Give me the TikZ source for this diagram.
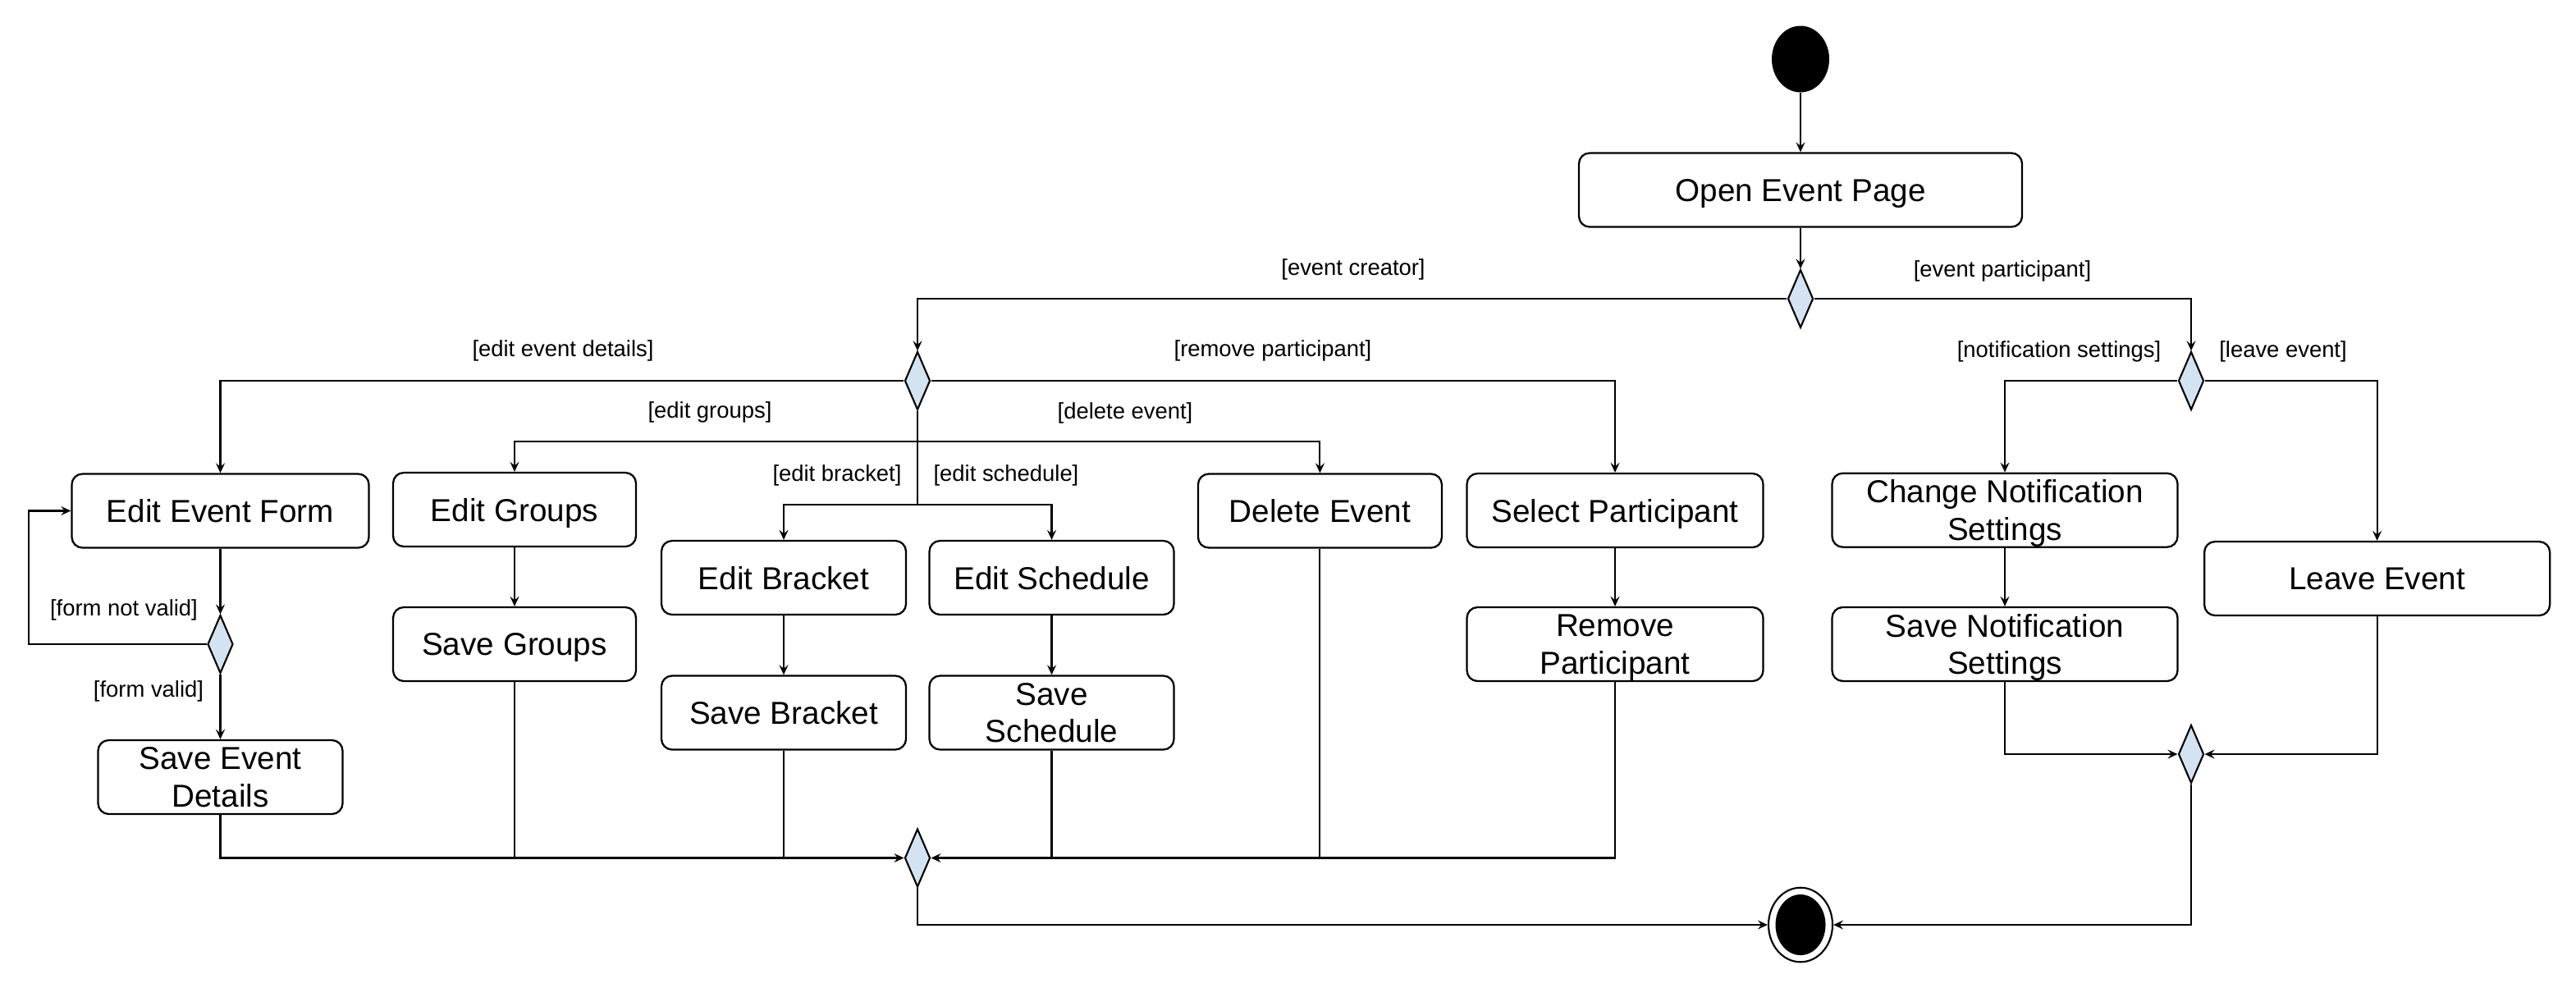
\documentclass[tikz,border=0pt]{standalone}
\usepackage{fontspec}
\setmainfont{Liberation Sans}
\usetikzlibrary{shapes.geometric,arrows.meta}
\definecolor{decblue}{RGB}{212,227,241}

\begin{document}
\begin{tikzpicture}[
  act/.style={draw, rounded corners=1.3mm, line width=0.65pt, minimum height=0.9cm, inner sep=0pt, align=center, text depth=0pt, font=\fontsize{11}{13}\selectfont},
  dec/.style={diamond, draw, fill=decblue, line width=0.6pt, minimum width=0.31cm, minimum height=0.71cm, inner sep=0pt},
  grd/.style={inner sep=0pt, font=\fontsize{7.8}{9}\selectfont},
  flow/.style={line width=0.6pt, -{Stealth[length=1.2mm,width=1.1mm,inset=0.45mm]}},
  plainline/.style={line width=0.6pt}]
\useasboundingbox (0,0) rectangle (31.39,-12.03);

% start
\node (start) at (21.94,-0.72) [ellipse, fill, minimum width=0.70cm, minimum height=0.81cm, inner sep=0pt] {};
\node (open) at (21.94,-2.315) [act, minimum width=5.40cm] {Open Event Page};
\node (d1) at (21.94,-3.64) [dec] {};

% event creator
\node (d2) at (11.18,-4.64) [dec] {};
\node (editform) at (2.685,-6.225) [act, minimum width=3.62cm] {Edit Event Form};
\node (d4) at (2.685,-7.85) [dec] {};
\node (saveform) at (2.685,-9.47) [act, minimum width=2.98cm] {Save Event\\Details};
\node (editgroups) at (6.27,-6.21) [act, minimum width=2.96cm] {Edit Groups};
\node (savegroups) at (6.27,-7.85) [act, minimum width=2.96cm] {Save Groups};
\node (editbracket) at (9.55,-7.04) [act, minimum width=2.98cm] {Edit Bracket};
\node (savebracket) at (9.55,-8.685) [act, minimum width=2.98cm] {Save Bracket};
\node (editschedule) at (12.815,-7.04) [act, minimum width=2.98cm] {Edit Schedule};
\node (saveschedule) at (12.815,-8.685) [act, minimum width=2.98cm] {Save\\Schedule};
\node (delete) at (16.084,-6.225) [act, minimum width=2.97cm] {Delete Event};
\node (select) at (19.68,-6.22) [act, minimum width=3.61cm] {Select Participant};
\node (remove) at (19.68,-7.85) [act, minimum width=3.61cm] {Remove\\Participant};
\node (d5) at (11.18,-10.455) [dec] {};

% event participant
\node (d3) at (26.70,-4.64) [dec] {};
\node (change) at (24.43,-6.217) [act, minimum width=4.21cm] {Change Notification\\Settings};
\node (savenotif) at (24.43,-7.85) [act, minimum width=4.21cm] {Save Notification\\Settings};
\node (leave) at (28.966,-7.05) [act, minimum width=4.21cm] {Leave Event};
\node (d6) at (26.70,-9.19) [dec] {};

% end
\node (final) at (21.94,-11.27) [ellipse, draw, line width=0.6pt, minimum width=0.78cm, minimum height=0.906cm, inner sep=0pt] {};
\node (finaldot) at (final) [ellipse, fill, minimum width=0.61cm, minimum height=0.74cm, inner sep=0pt] {};

% guards
\node (gcreator) at (16.49,-3.28) [grd] {[event creator]};
\node (gparticipant) at (24.40,-3.30) [grd] {[event participant]};
\node (gdetails) at (6.86,-4.27) [grd] {[edit event details]};
\node (gremove) at (15.51,-4.27) [grd] {[remove participant]};
\node (ggroups) at (8.65,-5.02) [grd] {[edit groups]};
\node (gdelete) at (13.71,-5.03) [grd] {[delete event]};
\node (gbracket) at (10.20,-5.79) [grd] {[edit bracket]};
\node (gschedule) at (12.26,-5.79) [grd] {[edit schedule]};
\node (gnotif) at (25.09,-4.28) [grd] {[notification settings]};
\node (gleave) at (27.82,-4.28) [grd] {[leave event]};
\node (gnotvalid) at (1.51,-7.43) [grd] {[form not valid]};
\node (gvalid) at (1.81,-8.42) [grd] {[form valid]};

\draw[flow] (start) -- (open);
\draw[flow] (open) -- (d1);
\draw[flow] (d1.west) -| (d2.north);
\draw[flow] (d1.east) -| (d3.north);

\draw[flow] (d2.west) -| (editform.north);
\draw[flow] (d2.east) -| (select.north);
\coordinate (fork1) at (11.18,-5.38);
\coordinate (fork2) at (11.18,-6.147);
\draw[plainline] (d2.south) -- (fork1);
\draw[flow] (fork1) -| (editgroups.north);
\draw[flow] (fork1) -| (delete.north);
\draw[plainline] (fork1) -- (fork2);
\draw[flow] (fork2) -| (editbracket.north);
\draw[flow] (fork2) -| (editschedule.north);

\draw[flow] (editform) -- (d4);
\draw[flow] (d4) -- (saveform);
\coordinate (back) at (0.35,-7.85);
\draw[flow] (d4.west) -- (back) |- (editform.west);
\draw[flow] (editgroups) -- (savegroups);
\draw[flow] (editbracket) -- (savebracket);
\draw[flow] (editschedule) -- (saveschedule);
\draw[flow] (select) -- (remove);

% merge
\draw[flow] (saveform.south) |- (d5.west);
\draw[plainline] (savegroups.south) -- (savegroups.south |- d5.west);
\draw[plainline] (savebracket.south) -- (savebracket.south |- d5.west);
\draw[flow] (remove.south) |- (d5.east);
\draw[plainline] (delete.south) -- (delete.south |- d5.east);
\draw[plainline] (saveschedule.south) -- (saveschedule.south |- d5.east);
\draw[flow] (d5.south) |- (final.west);

\draw[flow] (d3.west) -| (change.north);
\draw[flow] (d3.east) -| (leave.north);
\draw[flow] (change) -- (savenotif);
\draw[flow] (savenotif.south) |- (d6.west);
\draw[flow] (leave.south) |- (d6.east);
\draw[flow] (d6.south) |- (final.east);

\end{tikzpicture}
\end{document}
